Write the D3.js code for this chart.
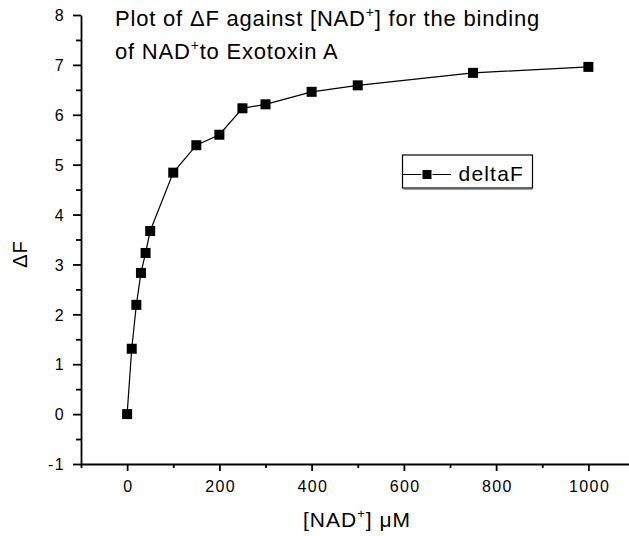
<!DOCTYPE html>
<html>
<head>
<meta charset="utf-8">
<script src="https://cdn.jsdelivr.net/npm/d3@7"></script>
<style>
  body { margin: 0; background: #fff; }
  svg { display: block; font-family: "Liberation Sans", Arial, sans-serif; }
  .axis path, .axis line { stroke: #000; stroke-width: 1.8; }
  .axis text { font-size: 16px; fill: #000; letter-spacing: 1.4px; }
</style>
</head>
<body>
<div id="chart"></div>
<script>
// NAD+ concentration (uM) and fluorescence change
var conc = [0, 10, 20, 30, 40, 50, 100, 150, 200, 250, 300, 400, 500, 750, 1000];
var deltaF = [0, 1.31, 2.19, 2.83, 3.23, 3.67, 4.84, 5.39, 5.6, 6.13, 6.21, 6.46, 6.59, 6.84, 6.96];
var xTicks = [0, 200, 400, 600, 800, 1000];
var yTicks = [-1, 0, 1, 2, 3, 4, 5, 6, 7, 8];
var seriesName = "deltaF";

var svg = d3.select("#chart")
    .append("svg")
    .attr("width", 629)
    .attr("height", 536);

var x = d3.scaleLinear().domain([-100, 1100]).range([81, 634.5]),
    y = d3.scaleLinear().domain([-1, 8]).range([464, 15]);

var data = conc.map(function (c, i) { return {c: c, f: deltaF[i]}; });

// minor ticks first
svg.append("g")
    .attr("class", "axis")
    .attr("transform", "translate(0,464)")
    .call(d3.axisBottom(x).tickValues(d3.range(-100, 1101, 200)).tickSize(4).tickFormat(""))
    .select(".domain").remove();

svg.append("g")
    .attr("class", "axis")
    .attr("transform", "translate(81,0)")
    .call(d3.axisLeft(y).tickValues(d3.range(-0.5, 8, 1)).tickSize(5).tickFormat(""))
    .select(".domain").remove();

var xAxis = svg.append("g")
    .attr("class", "axis")
    .attr("transform", "translate(0,464)")
    .call(d3.axisBottom(x).tickValues(xTicks).tickSizeInner(7).tickSizeOuter(0)
        .tickPadding(10).tickFormat(d3.format("d")));
xAxis.selectAll("text").attr("dx", "0.7px");

var yAxis = svg.append("g")
    .attr("class", "axis")
    .attr("transform", "translate(81,0)")
    .call(d3.axisLeft(y).tickValues(yTicks).tickSizeInner(8).tickSizeOuter(0)
        .tickPadding(8).tickFormat(function (d) { return String(d); }));
yAxis.selectAll("text").attr("dy", "0.36em");

var line = d3.line()
    .x(function (d) { return x(d.c); })
    .y(function (d) { return y(d.f); });

svg.append("path")
    .datum(data)
    .attr("fill", "none")
    .attr("stroke", "#000")
    .attr("stroke-width", 1.2)
    .attr("d", line);

svg.selectAll(".pt")
    .data(data)
    .enter().append("rect")
    .attr("class", "pt")
    .attr("x", function (d) { return x(d.c) - 5; })
    .attr("y", function (d) { return y(d.f) - 5; })
    .attr("width", 10)
    .attr("height", 10)
    .attr("fill", "#000");

// title
var title = svg.append("text")
    .attr("x", 115)
    .attr("y", 26)
    .style("font-size", "22px")
    .style("letter-spacing", "0.8px");
title.append("tspan").text("Plot of \u0394F against [NAD");
title.append("tspan").attr("dy", -9).style("font-size", "14px").text("+");
title.append("tspan").attr("dy", 9).text("] for the binding");

var title2 = svg.append("text")
    .attr("x", 115)
    .attr("y", 59)
    .style("font-size", "22px")
    .style("letter-spacing", "0.8px");
title2.append("tspan").text("of NAD");
title2.append("tspan").attr("dy", -9).style("font-size", "14px").text("+");
title2.append("tspan").attr("dy", 9).text("to Exotoxin A");

// axis titles
var xt = svg.append("text")
    .attr("x", 357)
    .attr("y", 527)
    .attr("text-anchor", "middle")
    .style("font-size", "21px")
    .style("letter-spacing", "1px");
xt.append("tspan").text("[NAD");
xt.append("tspan").attr("dy", -9).style("font-size", "13px").text("+");
xt.append("tspan").attr("dy", 9).text("] \u03bcM");

svg.append("text")
    .attr("transform", "translate(27,254) rotate(-90)")
    .attr("text-anchor", "middle")
    .style("font-size", "20px")
    .style("letter-spacing", "1px")
    .text("\u0394F");

// legend
var lg = svg.append("g").attr("transform", "translate(402.5,155)");
lg.append("line")
    .attr("x1", 1).attr("x2", 130)
    .attr("y1", 34.5).attr("y2", 34.5)
    .attr("stroke", "#999")
    .attr("stroke-width", 1.2);
lg.append("rect")
    .attr("width", 130)
    .attr("height", 33)
    .attr("fill", "#fff")
    .attr("stroke", "#000")
    .attr("stroke-width", 1.2);
lg.append("line")
    .attr("x1", 0).attr("x2", 48.5)
    .attr("y1", 19.5).attr("y2", 19.5)
    .attr("stroke", "#000")
    .attr("stroke-width", 1.2);
lg.append("rect")
    .attr("x", 19.5).attr("y", 14.5)
    .attr("width", 10).attr("height", 10)
    .attr("fill", "#000")
    .attr("stroke", "#fff")
    .attr("stroke-width", 1);
lg.append("text")
    .attr("x", 56)
    .attr("y", 26)
    .style("font-size", "21px")
    .style("letter-spacing", "1.2px")
    .text(seriesName);
</script>
</body>
</html>
